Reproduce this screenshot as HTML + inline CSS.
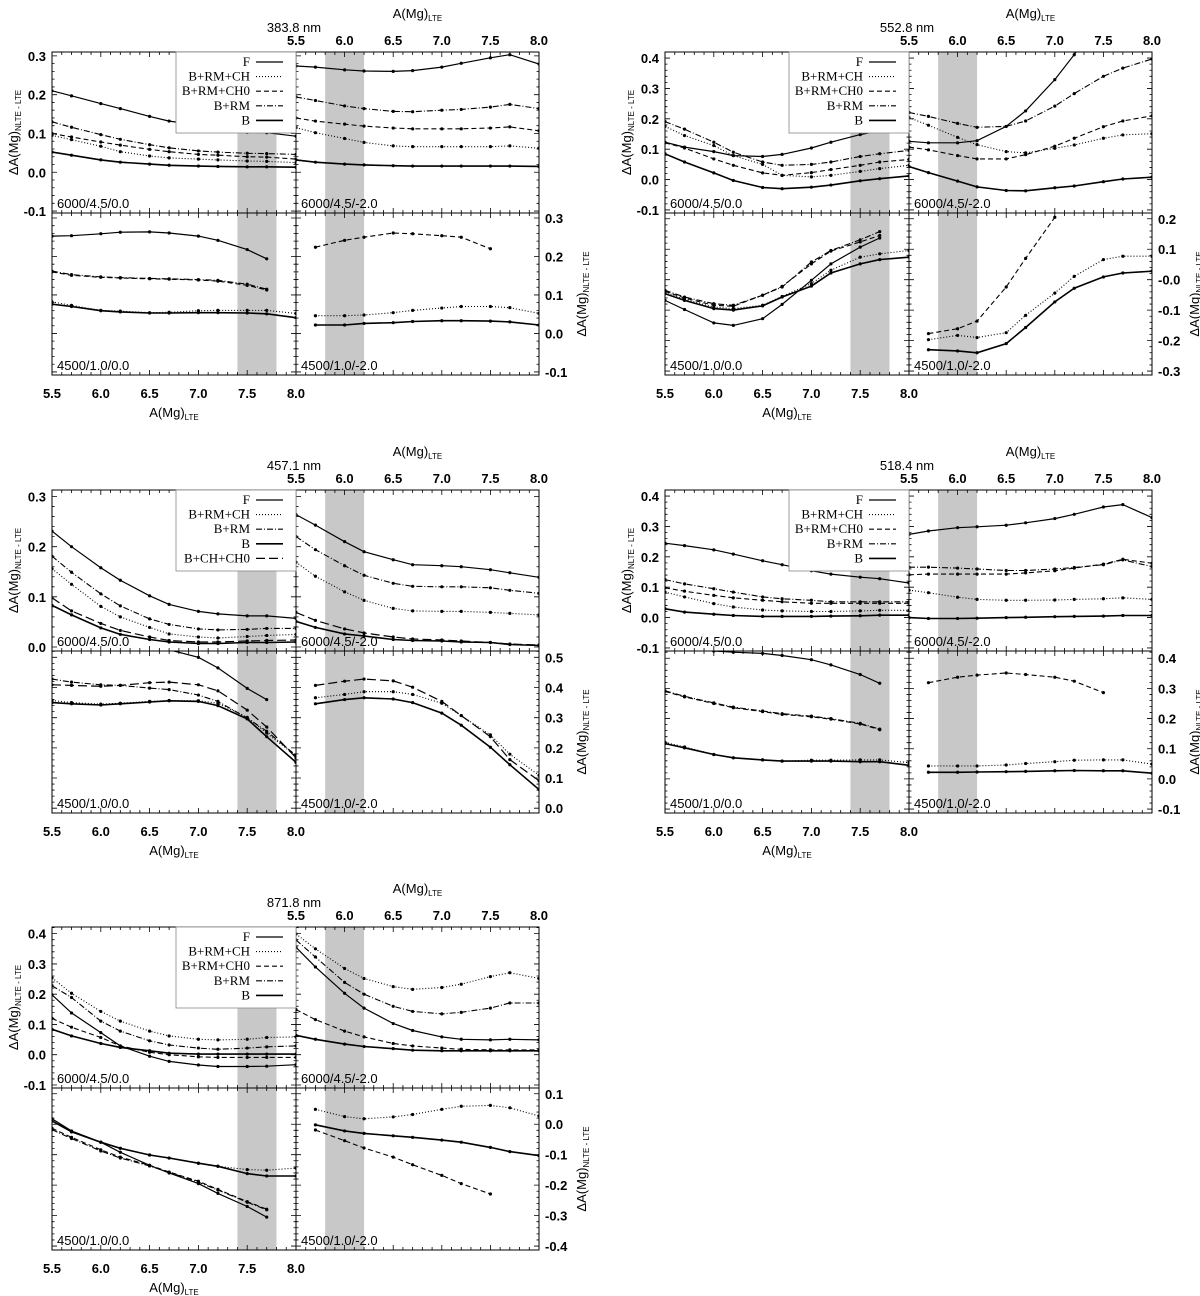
<!DOCTYPE html>
<html><head><meta charset="utf-8"><style>
body{margin:0;background:#fff}
svg{display:block}
.tk{font-family:"Liberation Sans",sans-serif;font-size:13px;font-weight:bold;fill:#000}
.pl{font-family:"Liberation Sans",sans-serif;font-size:13px;fill:#000}
.lg{font-family:"Liberation Serif",serif;font-size:13px;fill:#000}
</style></head><body>
<svg id="fig" xmlns="http://www.w3.org/2000/svg" width="1200" height="1296" viewBox="0 0 1200 1296"></svg>
<script>
const X = [5.5,5.7,6.0,6.2,6.5,6.7,7.0,7.2,7.5,7.7,8.0];
const xTicks = [5.5,6.0,6.5,7.0,7.5,8.0];
const xTickLabels = ["5.5","6.0","6.5","7.0","7.5","8.0"];
// ---- 383.8 nm ----
const b1tlF = [0.21,0.197,0.177,0.164,0.144,0.132,0.122,0.115,0.103,0.102,0.093];
const b1tlCH = [0.095,0.084,0.067,0.053,0.042,0.037,0.034,0.032,0.029,0.028,0.025];
const b1tlCH0 = [0.1,0.091,0.078,0.07,0.059,0.053,0.046,0.044,0.04,0.039,0.034];
const b1tlRM = [0.13,0.116,0.097,0.085,0.071,0.063,0.055,0.052,0.049,0.048,0.046];
const b1tlB = [0.052,0.044,0.032,0.026,0.021,0.018,0.016,0.015,0.014,0.014,0.013];
const b1trF = [0.274,0.271,0.264,0.261,0.26,0.262,0.271,0.281,0.295,0.303,0.279];
const b1trRM = [0.194,0.185,0.171,0.164,0.157,0.156,0.16,0.162,0.168,0.175,0.164];
const b1trCH0 = [0.14,0.132,0.124,0.119,0.114,0.112,0.112,0.112,0.114,0.117,0.107];
const b1trCH = [0.115,0.102,0.087,0.077,0.068,0.066,0.066,0.066,0.066,0.068,0.062];
const b1trB = [0.032,0.026,0.021,0.019,0.017,0.016,0.016,0.016,0.016,0.016,0.015];
const b1blF = [0.253,0.254,0.259,0.263,0.264,0.261,0.253,0.242,0.218,0.194,null];
const b1blRM = [0.162,0.153,0.147,0.145,0.143,0.142,0.14,0.138,0.128,0.115,null];
const b1blCH0 = [0.16,0.151,0.146,0.144,0.142,0.141,0.139,0.136,0.125,0.113,null];
const b1blCH = [0.082,0.073,0.06,0.058,0.054,0.055,0.059,0.06,0.06,0.06,0.052];
const b1blB = [0.076,0.07,0.059,0.056,0.053,0.053,0.054,0.054,0.053,0.051,0.041];
const b1brCH0 = [null,0.224,0.242,0.25,0.261,0.259,0.254,0.25,0.22,null,null];
const b1brCH = [null,0.046,0.046,0.048,0.054,0.06,0.066,0.07,0.07,0.067,0.052];
const b1brB = [null,0.022,0.022,0.026,0.028,0.031,0.033,0.033,0.032,0.03,0.022];
// ---- 552.8 nm ----
const b2tlF = [0.123,0.107,0.092,0.079,0.076,0.083,0.104,0.123,0.148,0.161,0.172];
const b2tlCH = [0.175,0.145,0.112,0.079,0.05,0.014,0.009,0.014,0.027,0.036,0.047];
const b2tlCH0 = [0.121,0.104,0.068,0.047,0.022,0.014,0.023,0.033,0.047,0.058,0.066];
const b2tlRM = [0.191,0.166,0.123,0.09,0.058,0.047,0.05,0.058,0.076,0.085,0.096];
const b2tlB = [0.085,0.058,0.022,-0.003,-0.026,-0.03,-0.025,-0.018,-0.004,0.003,0.012];
const b2trF = [0.126,0.121,0.121,0.128,0.175,0.226,0.329,0.411,0.55,0.62,0.7];
const b2trRM = [0.221,0.208,0.185,0.172,0.175,0.193,0.242,0.283,0.34,0.367,0.397];
const b2trCH0 = [0.107,0.098,0.079,0.068,0.068,0.082,0.11,0.136,0.174,0.193,0.21];
const b2trCH = [0.204,0.179,0.139,0.115,0.092,0.088,0.103,0.114,0.136,0.147,0.151];
const b2trB = [0.043,0.023,-0.005,-0.024,-0.036,-0.037,-0.027,-0.021,-0.007,0.002,0.008];
const b2blF = [-0.068,-0.098,-0.142,-0.15,-0.128,-0.081,-0.002,0.052,0.107,0.137,null];
const b2blRM = [-0.035,-0.057,-0.079,-0.084,-0.051,-0.024,0.058,0.096,0.131,0.158,null];
const b2blCH0 = [-0.038,-0.06,-0.084,-0.087,-0.051,-0.022,0.052,0.094,0.124,0.145,null];
const b2blCH = [-0.04,-0.064,-0.09,-0.095,-0.084,-0.055,-0.013,0.031,0.074,0.085,0.096];
const b2blB = [-0.046,-0.068,-0.095,-0.1,-0.086,-0.057,-0.021,0.022,0.052,0.066,0.074];
const b2brCH0 = [null,-0.177,-0.161,-0.136,-0.024,0.07,0.205,null,null,null,null];
const b2brCH = [null,-0.197,-0.183,-0.19,-0.174,-0.117,-0.044,0.011,0.066,0.077,0.077];
const b2brB = [null,-0.23,-0.234,-0.24,-0.21,-0.157,-0.073,-0.028,0.009,0.022,0.028];
// ---- 457.1 nm ----
const b3tlF = [0.231,0.2,0.158,0.133,0.102,0.085,0.071,0.066,0.062,0.062,0.057];
const b3tlCH = [0.156,0.125,0.081,0.06,0.039,0.026,0.02,0.018,0.021,0.023,0.025];
const b3tlRM = [0.181,0.149,0.106,0.082,0.056,0.045,0.036,0.034,0.035,0.037,0.037];
const b3tlB = [0.083,0.064,0.038,0.025,0.015,0.01,0.007,0.007,0.009,0.009,0.01];
const b3tlCC = [0.098,0.072,0.047,0.033,0.02,0.013,0.01,0.01,0.012,0.013,0.014];
const b3trF = [0.264,0.243,0.21,0.19,0.174,0.164,0.162,0.16,0.154,0.148,0.139];
const b3trCH = [0.169,0.141,0.11,0.093,0.077,0.072,0.071,0.071,0.069,0.067,0.064];
const b3trRM = [0.22,0.194,0.162,0.143,0.127,0.121,0.12,0.12,0.118,0.113,0.107];
const b3trB = [0.051,0.039,0.026,0.022,0.015,0.013,0.012,0.01,0.009,0.005,0.003];
const b3trCC = [0.069,0.053,0.036,0.028,0.02,0.016,0.014,0.012,0.009,0.006,0.004];
const b3blF = [null,null,null,null,0.56,0.525,0.5,0.465,0.397,0.36,null];
const b3blCH = [0.357,0.35,0.345,0.348,0.354,0.357,0.356,0.348,0.301,0.249,0.173];
const b3blRM = [0.428,0.418,0.409,0.407,0.398,0.393,0.375,0.354,0.299,0.255,0.175];
const b3blB = [0.35,0.346,0.342,0.346,0.352,0.356,0.354,0.34,0.296,0.237,0.152];
const b3blCC = [0.409,0.407,0.404,0.407,0.416,0.418,0.409,0.389,0.325,0.269,0.167];
const b3brCH = [null,0.366,0.377,0.386,0.386,0.377,0.348,0.307,0.243,0.179,0.109];
const b3brB = [null,0.346,0.36,0.366,0.362,0.35,0.315,0.275,0.202,0.144,0.062];
const b3brCC = [null,0.407,0.421,0.428,0.422,0.401,0.354,0.307,0.237,0.161,0.091];
// ---- 518.4 nm ----
const b4tlF = [0.245,0.237,0.223,0.209,0.187,0.174,0.154,0.143,0.133,0.128,0.114];
const b4tlCH = [0.084,0.068,0.046,0.035,0.025,0.022,0.02,0.02,0.022,0.024,0.024];
const b4tlCH0 = [0.098,0.087,0.073,0.065,0.057,0.052,0.047,0.047,0.047,0.047,0.047];
const b4tlRM = [0.125,0.111,0.095,0.084,0.068,0.062,0.057,0.052,0.052,0.052,0.052];
const b4tlB = [0.029,0.018,0.011,0.007,0.004,0.004,0.004,0.005,0.006,0.008,0.008];
const b4trF = [0.274,0.285,0.296,0.299,0.304,0.312,0.326,0.34,0.364,0.372,0.329];
const b4trRM = [0.166,0.166,0.163,0.16,0.155,0.155,0.16,0.165,0.174,0.19,0.168];
const b4trCH0 = [0.141,0.143,0.143,0.143,0.143,0.147,0.154,0.163,0.176,0.192,0.179];
const b4trCH = [0.09,0.082,0.067,0.06,0.057,0.057,0.058,0.06,0.062,0.065,0.06];
const b4trB = [0.0,-0.003,-0.003,-0.002,0.0,0.001,0.003,0.004,0.005,0.007,0.007];
const b4blF = [0.435,0.43,0.424,0.42,0.416,0.409,0.395,0.378,0.346,0.317,null];
const b4blRM = [0.292,0.274,0.252,0.238,0.225,0.216,0.208,0.2,0.184,0.165,null];
const b4blCH0 = [0.29,0.272,0.25,0.236,0.223,0.214,0.206,0.198,0.182,0.163,null];
const b4blCH = [0.121,0.106,0.081,0.07,0.063,0.059,0.062,0.062,0.063,0.063,0.054];
const b4blB = [0.117,0.103,0.081,0.07,0.063,0.059,0.059,0.059,0.057,0.057,0.045];
const b4brCH0 = [null,0.319,0.337,0.344,0.351,0.346,0.337,0.324,0.286,null,null];
const b4brCH = [null,0.043,0.043,0.043,0.046,0.051,0.057,0.062,0.063,0.063,0.049];
const b4brB = [null,0.022,0.022,0.023,0.024,0.025,0.027,0.028,0.027,0.027,0.019];
// ---- 871.8 nm ----
const b5tlF = [0.198,0.138,0.073,0.029,-0.005,-0.022,-0.034,-0.039,-0.039,-0.038,-0.033];
const b5tlCH = [0.254,0.203,0.143,0.111,0.078,0.062,0.051,0.049,0.051,0.057,0.059];
const b5tlCH0 = [0.12,0.091,0.057,0.029,0.008,0.0,-0.007,-0.009,-0.009,-0.009,-0.009];
const b5tlRM = [0.228,0.189,0.111,0.078,0.046,0.032,0.022,0.018,0.022,0.026,0.029];
const b5tlB = [0.084,0.062,0.037,0.024,0.013,0.005,0.002,0.002,0.002,0.002,0.002];
const b5trF = [0.355,0.29,0.203,0.154,0.103,0.08,0.059,0.051,0.049,0.051,0.049];
const b5trCH = [0.399,0.35,0.285,0.252,0.225,0.216,0.222,0.233,0.258,0.271,0.252];
const b5trCH0 = [0.149,0.116,0.078,0.059,0.037,0.029,0.022,0.018,0.016,0.016,0.016];
const b5trRM = [0.379,0.323,0.239,0.2,0.16,0.143,0.135,0.14,0.154,0.171,0.171];
const b5trB = [0.064,0.051,0.035,0.027,0.02,0.015,0.013,0.013,0.013,0.013,0.013];
const b5blF = [0.018,-0.022,-0.059,-0.092,-0.135,-0.16,-0.195,-0.227,-0.27,-0.305,null];
const b5blCH = [0.011,-0.025,-0.059,-0.079,-0.101,-0.111,-0.128,-0.138,-0.149,-0.151,-0.144];
const b5blCH0 = [-0.013,-0.043,-0.084,-0.108,-0.135,-0.157,-0.187,-0.214,-0.254,-0.279,null];
const b5blRM = [-0.018,-0.047,-0.088,-0.111,-0.137,-0.158,-0.19,-0.216,-0.256,-0.281,null];
const b5blB = [0.011,-0.025,-0.059,-0.079,-0.101,-0.111,-0.128,-0.138,-0.162,-0.17,-0.17];
const b5brCH = [null,0.049,0.025,0.018,0.024,0.032,0.049,0.059,0.062,0.054,0.027];
const b5brCH0 = [null,-0.019,-0.054,-0.078,-0.108,-0.133,-0.168,-0.195,-0.229,null,null];
const b5brB = [null,-0.002,-0.022,-0.03,-0.038,-0.043,-0.052,-0.059,-0.076,-0.09,-0.103];

const STY = {
  F:{dash:"",w:1.2},
  CH:{dash:"1,2",w:1.1},
  CH0:{dash:"5,3",w:1.1},
  RM:{dash:"6,2,1,2",w:1.1},
  B:{dash:"",w:1.6},
  CC:{dash:"9,4",w:1.2}
};
const LEG5 = [["F","F"],["B+RM+CH","CH"],["B+RM+CH0","CH0"],["B+RM","RM"],["B","B"]];
const LEG3 = [["F","F"],["B+RM+CH","CH"],["B+RM","RM"],["B","B"],["B+CH+CH0","CC"]];

const blocks = [
 {id:"383-8nm",nm:"383.8 nm",ox:0,oy:0,top:[-0.105,0.31],bot:[-0.108,0.313],
  topT:[0.3,0.2,0.1,0.0,-0.1],topL:["0.3","0.2","0.1","0.0","-0.1"],
  botT:[0.3,0.2,0.1,0.0,-0.1],botL:["0.3","0.2","0.1","0.0","-0.1"],leg:LEG5,
  tl:{F:b1tlF,CH:b1tlCH,CH0:b1tlCH0,RM:b1tlRM,B:b1tlB},
  tr:{F:b1trF,CH:b1trCH,CH0:b1trCH0,RM:b1trRM,B:b1trB},
  bl:{F:b1blF,CH:b1blCH,CH0:b1blCH0,RM:b1blRM,B:b1blB},
  br:{CH:b1brCH,CH0:b1brCH0,B:b1brB}},
 {id:"552-8nm",nm:"552.8 nm",ox:613,oy:0,top:[-0.11,0.42],bot:[-0.313,0.219],
  topT:[0.4,0.3,0.2,0.1,0.0,-0.1],topL:["0.4","0.3","0.2","0.1","0.0","-0.1"],
  botT:[0.2,0.1,0.0,-0.1,-0.2,-0.3],botL:["0.2","0.1","-0.0","-0.1","-0.2","-0.3"],leg:LEG5,
  tl:{F:b2tlF,CH:b2tlCH,CH0:b2tlCH0,RM:b2tlRM,B:b2tlB},
  tr:{F:b2trF,CH:b2trCH,CH0:b2trCH0,RM:b2trRM,B:b2trB},
  bl:{F:b2blF,CH:b2blCH,CH0:b2blCH0,RM:b2blRM,B:b2blB},
  br:{CH:b2brCH,CH0:b2brCH0,B:b2brB}},
 {id:"457-1nm",nm:"457.1 nm",ox:0,oy:438,top:[-0.008,0.313],bot:[-0.016,0.521],
  topT:[0.3,0.2,0.1,0.0],topL:["0.3","0.2","0.1","0.0"],
  botT:[0.5,0.4,0.3,0.2,0.1,0.0],botL:["0.5","0.4","0.3","0.2","0.1","0.0"],leg:LEG3,
  tl:{F:b3tlF,CH:b3tlCH,RM:b3tlRM,B:b3tlB,CC:b3tlCC},
  tr:{F:b3trF,CH:b3trCH,RM:b3trRM,B:b3trB,CC:b3trCC},
  bl:{F:b3blF,CH:b3blCH,RM:b3blRM,B:b3blB,CC:b3blCC},
  br:{CH:b3brCH,B:b3brB,CC:b3brCC}},
 {id:"518-4nm",nm:"518.4 nm",ox:613,oy:438,top:[-0.11,0.42],bot:[-0.113,0.424],
  topT:[0.4,0.3,0.2,0.1,0.0,-0.1],topL:["0.4","0.3","0.2","0.1","0.0","-0.1"],
  botT:[0.4,0.3,0.2,0.1,0.0,-0.1],botL:["0.4","0.3","0.2","0.1","0.0","-0.1"],leg:LEG5,
  tl:{F:b4tlF,CH:b4tlCH,CH0:b4tlCH0,RM:b4tlRM,B:b4tlB},
  tr:{F:b4trF,CH:b4trCH,CH0:b4trCH0,RM:b4trRM,B:b4trB},
  bl:{F:b4blF,CH:b4blCH,CH0:b4blCH0,RM:b4blRM,B:b4blB},
  br:{CH:b4brCH,CH0:b4brCH0,B:b4brB}},
 {id:"871-8nm",nm:"871.8 nm",ox:0,oy:875,top:[-0.11,0.422],bot:[-0.413,0.119],
  topT:[0.4,0.3,0.2,0.1,0.0,-0.1],topL:["0.4","0.3","0.2","0.1","0.0","-0.1"],
  botT:[0.1,0.0,-0.1,-0.2,-0.3,-0.4],botL:["0.1","0.0","-0.1","-0.2","-0.3","-0.4"],leg:LEG5,
  tl:{F:b5tlF,CH:b5tlCH,CH0:b5tlCH0,RM:b5tlRM,B:b5tlB},
  tr:{F:b5trF,CH:b5trCH,CH0:b5trCH0,RM:b5trRM,B:b5trB},
  bl:{F:b5blF,CH:b5blCH,CH0:b5blCH0,RM:b5blRM,B:b5blB},
  br:{CH:b5brCH,CH0:b5brCH0,B:b5brB}}
];

const NS="http://www.w3.org/2000/svg";
const svg=document.getElementById('fig');
function el(tag,attrs,parent){const e=document.createElementNS(NS,tag);for(const k in attrs)e.setAttribute(k,attrs[k]);(parent||svg).appendChild(e);return e;}
const XL=52,XM=296,XR=539,YT=52,YM=213,YB=375;
let clipN=0;

blocks.forEach(b=>{
  const g=el('g',{transform:`translate(${b.ox},${b.oy})`});
  
  
  const panels=[
    {k:'tl',x0:XL,x1:XM,y0:YT,y1:YM,r:b.top,lab:'6000/4.5/0.0',band:[7.4,7.8]},
    {k:'tr',x0:XM,x1:XR,y0:YT,y1:YM,r:b.top,lab:'6000/4.5/-2.0',band:[5.8,6.2]},
    {k:'bl',x0:XL,x1:XM,y0:YM,y1:YB,r:b.bot,lab:'4500/1.0/0.0',band:[7.4,7.8]},
    {k:'br',x0:XM,x1:XR,y0:YM,y1:YB,r:b.bot,lab:'4500/1.0/-2.0',band:[5.8,6.2]}
  ];
  panels.forEach(p=>{
    const sx=v=>p.x0+(v-5.5)/2.5*(p.x1-p.x0);
    const sy=v=>p.y0+(p.r[1]-v)/(p.r[1]-p.r[0])*(p.y1-p.y0);
    const pg=el('g',{},g);
    
    
    const band=el('rect',{x:sx(p.band[0]),y:p.y0,width:sx(p.band[1])-sx(p.band[0]),height:p.y1-p.y0,fill:'#c8c8c8'},pg);
    
    
    const cid='c'+(clipN++);
    const cp=el('clipPath',{id:cid},pg);
    el('rect',{x:p.x0,y:p.y0,width:p.x1-p.x0,height:p.y1-p.y0},cp);
    const sg=el('g',{'clip-path':`url(#${cid})`},pg);
    const ser=b[p.k];
    for(const key in ser){
      const arr=ser[key];const st=STY[key];
      let d='';let started=false;
      arr.forEach((v,i)=>{if(v===null){started=false;return;}d+=(started?'L':'M')+sx(X[i]).toFixed(1)+','+sy(v).toFixed(1);started=true;});
      const path=el('path',{d:d,fill:'none',stroke:'#000','stroke-width':st.w,'stroke-dasharray':st.dash},sg);
      
      
      arr.forEach((v,i)=>{if(v===null)return;
        const c=el('circle',{cx:sx(X[i]),cy:sy(v),r:1.6,fill:'#000'},sg);
        
        
      });
    }
    // ticks
    let tk='';
    for(let v=5.5;v<=8.0001;v+=0.1){const x=sx(v);const maj=Math.abs((v*2)-Math.round(v*2))<1e-6;const L=maj?5:3;
      tk+=`M${x},${p.y0}v${L}M${x},${p.y1}v${-L}`;}
    const lo=Math.ceil(p.r[0]*50-1e-6),hi=Math.floor(p.r[1]*50+1e-6);
    for(let i=lo;i<=hi;i++){const v=i/50;const y=sy(v);const maj=(i%5===0);const L=maj?5:2.5;
      tk+=`M${p.x0},${y}h${L}M${p.x1},${y}h${-L}`;}
    const tkp=el('path',{d:tk,stroke:'#000','stroke-width':0.8,fill:'none'},pg);
    
    
    const fr=el('rect',{x:p.x0,y:p.y0,width:p.x1-p.x0,height:p.y1-p.y0,fill:'none',stroke:'#000','stroke-width':1},pg);
    
    
    const t=el('text',{x:p.x0+5,y:p.y1-5,class:'pl'},pg);t.textContent=p.lab;
    
    
    // y tick labels
    if(p.k==='tl'){b.topT.forEach((v,i)=>{const tt=el('text',{x:p.x0-6,y:sy(v)+5,'text-anchor':'end',class:'tk'},g);tt.textContent=b.topL[i];
      
      });}
    if(p.k==='br'){b.botT.forEach((v,i)=>{const tt=el('text',{x:p.x1+6,y:sy(v)+5,'text-anchor':'start',class:'tk'},g);tt.textContent=b.botL[i];
      
      });}
    if(p.k==='bl'){xTicks.forEach((v,i)=>{const tt=el('text',{x:sx(v),y:YB+23,'text-anchor':'middle',class:'tk'},g);tt.textContent=xTickLabels[i];
      
      });}
    if(p.k==='tr'){xTicks.forEach((v,i)=>{const tt=el('text',{x:sx(v),y:YT-7,'text-anchor':'middle',class:'tk'},g);tt.textContent=xTickLabels[i];
      
      });}
  });
  // titles
  const t1=el('text',{x:(XM+XR)/2,y:18,'text-anchor':'middle',class:'pl'},g);
  t1.innerHTML='A(Mg)<tspan font-size="8" dy="3">LTE</tspan>';
  
  
  const t2=el('text',{x:(XL+XM)/2,y:YB+42,'text-anchor':'middle',class:'pl'},g);
  t2.innerHTML='A(Mg)<tspan font-size="8" dy="3">LTE</tspan>';
  
  
  const t3=el('text',{x:XM-2,y:32,'text-anchor':'middle',class:'pl'},g);
  t3.textContent=b.nm;
  
  
  const t4=el('text',{transform:`translate(18,${(YT+YM)/2}) rotate(-90)`,'text-anchor':'middle',class:'pl'},g);
  t4.innerHTML='ΔA(Mg)<tspan font-size="8" dy="3">NLTE - LTE</tspan>';
  
  
  const t5=el('text',{transform:`translate(586,${(YM+YB)/2}) rotate(-90)`,'text-anchor':'middle',class:'pl'},g);
  t5.innerHTML='ΔA(Mg)<tspan font-size="8" dy="3">NLTE - LTE</tspan>';
  
  
  // legend
  const lg=el('g',{},g);
  
  
  const lh=b.leg.length*14.6+8;
  el('rect',{x:176,y:YT,width:XM-176,height:lh,fill:'#fff',stroke:'#888','stroke-width':0.8},lg);
  b.leg.forEach((e,i)=>{
    const y=YT+10+i*14.6;
    const tx=el('text',{x:250,y:y+4,'text-anchor':'end',class:'lg'},lg);tx.textContent=e[0];
    
    
    const st=STY[e[1]];
    const ln=el('line',{x1:256,x2:283,y1:y,y2:y,stroke:'#000','stroke-width':st.w,'stroke-dasharray':st.dash},lg);
    
    
  });
});
</script>
</body></html>
